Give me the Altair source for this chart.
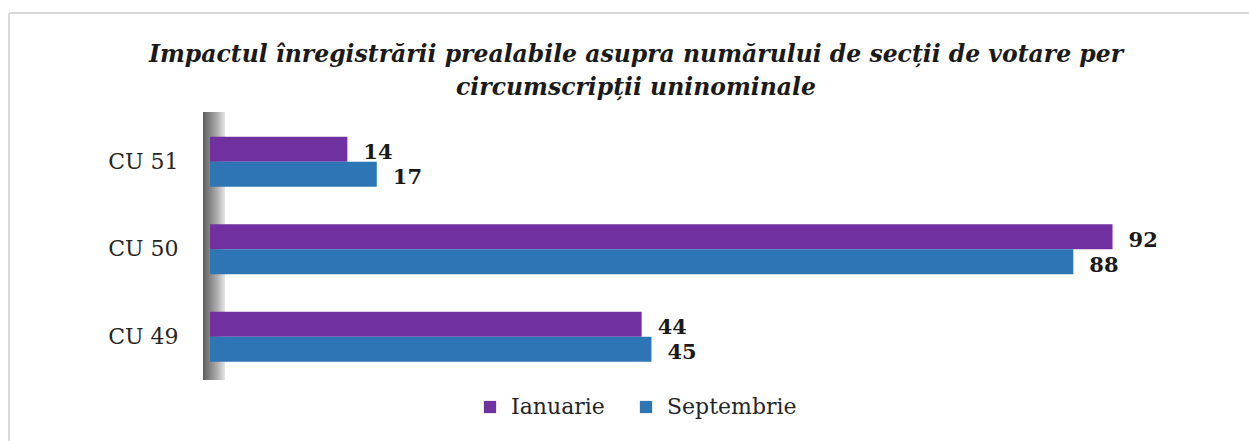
import altair as alt
import pandas as pd

categories = ["CU 51", "CU 50", "CU 49"]
series = ["Ianuarie", "Septembrie"]
ianuarie = [14, 92, 44]
septembrie = [17, 88, 45]
colors = ["#7030A0", "#2E75B6"]
title_lines = ["Impactul înregistrării prealabile asupra numărului de secții de votare per",
               "circumscripții uninominale"]

rows = []
for c, a, b in zip(categories, ianuarie, septembrie):
    rows.append({"cat": c, "serie": series[0], "val": a})
    rows.append({"cat": c, "serie": series[1], "val": b})
df = pd.DataFrame(rows)

W, H = 981, 262.5
SERIF = "DejaVu Serif"

y_enc = alt.Y("cat:N", sort=categories, title=None,
              scale=alt.Scale(paddingInner=0.43, paddingOuter=0.215),
              axis=alt.Axis(domain=False, ticks=False, labelFont=SERIF, labelFontSize=22,
                            labelColor="#262626", labelPadding=32))
yoff = alt.YOffset("serie:N", sort=series, scale=alt.Scale(paddingInner=0, paddingOuter=0))
x_enc = alt.X("val:Q", scale=alt.Scale(domain=[0, 100]), axis=None)

base = alt.Chart(df)

dummy = alt.Chart(pd.DataFrame({"a": [0]}))
wall = dummy.mark_rect(
    color=alt.Gradient(gradient="linear", x1=0, x2=1, y1=0, y2=0,
                       stops=[alt.GradientStop(color="#5e5e5e", offset=0),
                              alt.GradientStop(color="#a8a8a8", offset=0.6),
                              alt.GradientStop(color="#e6e6e6", offset=1)])
).encode(x=alt.value(-7), x2=alt.value(15), y=alt.value(-6), y2=alt.value(262))

bars = base.mark_bar().encode(
    y=y_enc, yOffset=yoff, x=x_enc,
    color=alt.Color("serie:N", sort=series,
                    scale=alt.Scale(domain=series, range=colors),
                    legend=alt.Legend(title=None, orient="none", direction="horizontal",
                                      legendX=269, legendY=278,
                                      symbolType="square", symbolSize=150, symbolStrokeWidth=0,
                                      labelFont=SERIF, labelFontSize=22, labelColor="#262626",
                                      labelOffset=10, columnPadding=30)),
)

labels = base.mark_text(align="left", baseline="middle", dx=16, dy=4,
                        font=SERIF, fontSize=21, fontWeight="bold", color="#1a1a1a").encode(
    y=y_enc, yOffset=yoff, x=x_enc, text="val:Q")

title1 = dummy.mark_text(text=title_lines[0], align="center", baseline="alphabetic",
                         font=SERIF, fontSize=23.5, fontStyle="italic", fontWeight="bold",
                         color="#1a1a1a").encode(x=alt.value(636 - 210), y=alt.value(62 - 118))
title2 = dummy.mark_text(text=title_lines[1], align="center", baseline="alphabetic",
                         font=SERIF, fontSize=23.5, fontStyle="italic", fontWeight="bold",
                         color="#1a1a1a").encode(x=alt.value(636 - 210), y=alt.value(95 - 118))

frame_top = dummy.mark_rule(color="#d9d9d9", strokeWidth=2).encode(
    x=alt.value(-201), x2=alt.value(1249 - 210), y=alt.value(-105))
frame_left = dummy.mark_rule(color="#d9d9d9", strokeWidth=2).encode(
    x=alt.value(-201), y=alt.value(-105), y2=alt.value(441 - 118))

chart = alt.layer(frame_top, frame_left, wall, bars, labels, title1, title2).properties(
    width=W, height=H,
    autosize=alt.AutoSizeParams(type="none"),
    padding={"left": 210, "top": 118, "right": 58, "bottom": 60},
    background="white",
).configure_view(stroke=None)

chart.save("out.html", embed_options={"renderer": "svg", "actions": False})
